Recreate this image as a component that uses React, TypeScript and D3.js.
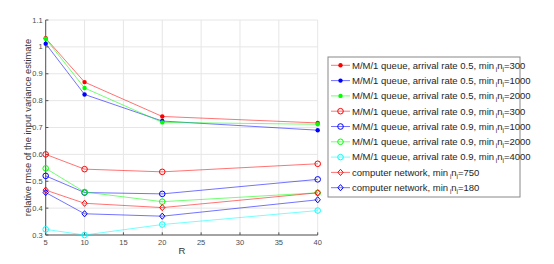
import React from "react";
import * as d3 from "d3";

const xValues = [5, 10, 20, 40];
const xTicks = [5, 10, 15, 20, 25, 30, 35, 40];
const yTicks = [0.3, 0.4, 0.5, 0.6, 0.7, 0.8, 0.9, 1.0, 1.1];

const s1 = [1.032, 0.869, 0.741, 0.717];
const s2 = [1.012, 0.823, 0.724, 0.69];
const s3 = [1.03, 0.847, 0.719, 0.712];
const s4 = [0.6, 0.545, 0.535, 0.565];
const s5 = [0.52, 0.458, 0.453, 0.507];
const s6 = [0.548, 0.46, 0.424, 0.457];
const s7 = [0.321, 0.3, 0.339, 0.391];
const s8 = [0.467, 0.418, 0.402, 0.457];
const s9 = [0.458, 0.379, 0.37, 0.431];

const labelsPre = [
  "M/M/1 queue, arrival rate 0.5, min",
  "M/M/1 queue, arrival rate 0.5, min",
  "M/M/1 queue, arrival rate 0.5, min",
  "M/M/1 queue, arrival rate 0.9, min",
  "M/M/1 queue, arrival rate 0.9, min",
  "M/M/1 queue, arrival rate 0.9, min",
  "M/M/1 queue, arrival rate 0.9, min",
  "computer network, min",
  "computer network, min",
];
const labelsPost = ["=300", "=1000", "=2000", "=300", "=1000", "=2000", "=4000", "=750", "=180"];

const series = [
  { values: s1, color: "#ff0000", marker: "dot" },
  { values: s2, color: "#0000ff", marker: "dot" },
  { values: s3, color: "#00ff00", marker: "dot" },
  { values: s4, color: "#ff0000", marker: "circle" },
  { values: s5, color: "#0000ff", marker: "circle" },
  { values: s6, color: "#00ff00", marker: "circle" },
  { values: s7, color: "#00ffff", marker: "circle" },
  { values: s8, color: "#ff0000", marker: "diamond" },
  { values: s9, color: "#0000ff", marker: "diamond" },
];

function Marker({ type, x, y, color }: { type: string; x: number; y: number; color: string }) {
  if (type === "dot") return <circle cx={x} cy={y} r={2.2} fill={color} />;
  if (type === "circle")
    return <circle cx={x} cy={y} r={2.8} fill="none" stroke={color} strokeWidth={1} />;
  const s = 3.1;
  return (
    <path
      d={`M${x},${y - s}L${x + s * 0.85},${y}L${x},${y + s}L${x - s * 0.85},${y}Z`}
      fill="none"
      stroke={color}
      strokeWidth={1}
    />
  );
}

export default function App() {
  const W = 554, H = 264;
  const x = d3.scaleLinear().domain([5, 40]).range([45.7, 317.7]);
  const y = d3.scaleLinear().domain([0.3, 1.1]).range([235, 20]);
  const line = d3
    .line<number>()
    .x((_, i) => x(xValues[i]))
    .y((d) => y(d));
  const font = "'Liberation Sans', Arial, Helvetica, sans-serif";
  const legX = 328, legY = 57, legW = 192, legH = 140;
  const rowY0 = 65.3, rowStep = 15.3;

  return (
    <svg
      width={W}
      height={H}
      style={{ position: "absolute", left: 0, top: 0, background: "#fff" }}
      fontFamily={font}
    >
      {/* grid */}
      {xTicks.map((t) => (
        <line key={"gx" + t} x1={x(t)} x2={x(t)} y1={y(1.1)} y2={y(0.3)} stroke="#e6e6e6" strokeWidth={1} />
      ))}
      {yTicks.map((t) => (
        <line key={"gy" + t} x1={x(5)} x2={x(40)} y1={y(t)} y2={y(t)} stroke="#e6e6e6" strokeWidth={1} />
      ))}
      {/* axes */}
      <line x1={x(5)} x2={x(5)} y1={y(1.1)} y2={y(0.3)} stroke="#555" strokeWidth={1} />
      <line x1={x(5)} x2={x(40)} y1={y(0.3)} y2={y(0.3)} stroke="#555" strokeWidth={1} />
      {xTicks.map((t) => (
        <g key={"xt" + t}>
          <line x1={x(t)} x2={x(t)} y1={y(0.3)} y2={y(0.3) - 2.7} stroke="#555" />
          <text x={x(t)} y={y(0.3) + 10} fontSize={7.5} fill="#4d4d4d" textAnchor="middle">
            {t}
          </text>
        </g>
      ))}
      {yTicks.map((t) => (
        <g key={"yt" + t}>
          <line x1={x(5)} x2={x(5) + 2.7} y1={y(t)} y2={y(t)} stroke="#555" />
          <text x={x(5) - 3} y={y(t) + 2.6} fontSize={7.5} fill="#4d4d4d" textAnchor="end">
            {d3.format("~g")(t)}
          </text>
        </g>
      ))}
      <text x={182} y={254} fontSize={9.5} fill="#333" textAnchor="middle">
        R
      </text>
      <text
        transform={`translate(31,127.5) rotate(-90)`}
        fontSize={9.3}
        fill="#333"
        textAnchor="middle"
      >
        relative rmse of the input variance estimate
      </text>
      {/* series */}
      {series.map((s, i) => (
        <g key={"s" + i}>
          <path d={line(s.values) || ""} fill="none" stroke={s.color} strokeOpacity={0.55} strokeWidth={1} />
          {s.values.map((v, j) => (
            <Marker key={j} type={s.marker} x={x(xValues[j])} y={y(v)} color={s.color} />
          ))}
        </g>
      ))}
      {/* legend */}
      <rect x={legX} y={legY} width={legW} height={legH} fill="#fff" stroke="#888" strokeWidth={1} />
      {series.map((s, i) => {
        const ry = rowY0 + i * rowStep;
        return (
          <g key={"l" + i}>
            <line x1={331} x2={350} y1={ry} y2={ry} stroke={s.color} strokeOpacity={0.55} />
            <Marker type={s.marker} x={340.5} y={ry} color={s.color} />
            <text x={352} y={ry + 3.3} fontSize={9.5} fill="#262626">
              {labelsPre[i]}
              <tspan fontSize={6.3} dx={1.8} dy={3}>i</tspan>
              <tspan dy={-3}>n</tspan>
              <tspan fontSize={6.3} dy={3}>i</tspan>
              <tspan dy={-3}>{labelsPost[i]}</tspan>
            </text>
          </g>
        );
      })}
    </svg>
  );
}
